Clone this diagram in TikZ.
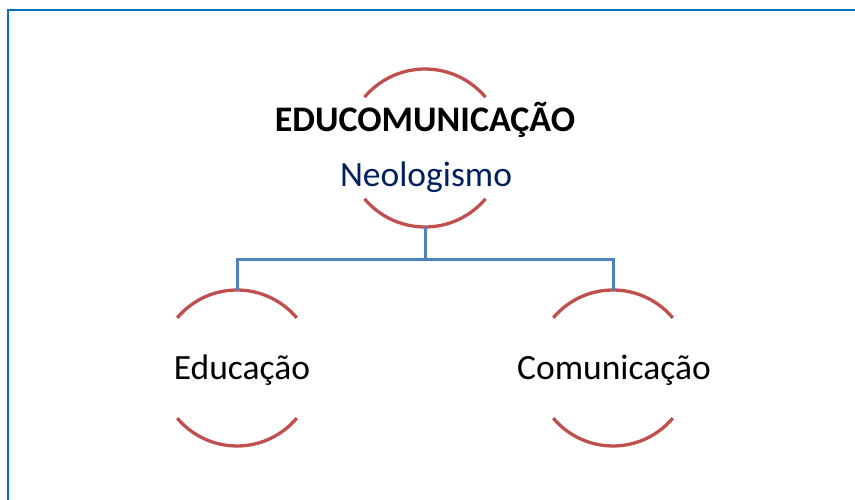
\documentclass[tikz,border=0pt]{standalone}
\usepackage{fontspec}
\setmainfont{Carlito}
\definecolor{framblue}{HTML}{0070C0}
\definecolor{arcred}{HTML}{C0504D}
\definecolor{linkblue}{HTML}{4F81BD}
\definecolor{navy}{HTML}{002060}
\begin{document}
\begin{tikzpicture}[x=1pt,y=-1pt,
  ring/.style={circle,minimum size=#1,inner sep=0pt,outer sep=0pt},
  arcline/.style={draw=arcred,line width=3.3pt},
  link/.style={draw=linkblue,line width=3pt},
  lbl/.style={anchor=base,inner sep=0pt,font=\fontsize{35.5}{40}\selectfont}]
\useasboundingbox (0,0) rectangle (855,500);
\draw[framblue,line width=2.5pt] (8,510) -- (8,10) -- (865,10);
% rings
\node[ring=158pt] (top) at (425,148) {};
\node[ring=156pt] (left) at (237,368) {};
\node[ring=156pt] (right) at (613,368) {};
\foreach \n/\r in {top/79,left/78,right/78}{
  \draw[arcline] (\n.40) arc[start angle=40,end angle=140,radius=\r pt];
  \draw[arcline] (\n.220) arc[start angle=220,end angle=320,radius=\r pt];
}
% connectors
\coordinate (j) at (425,259);
\draw[link] (top.south) -- (j) -| (left.north);
\draw[link] (j) -| (right.north);
% texts
\node[lbl,font=\bfseries\fontsize{36}{40}\selectfont] (t1) at (425,132) {EDUCOMUNICAÇÃO};
\node[lbl,text=navy] (t2) at (426,187) {Neologismo};
\node[lbl] (t3) at (242,379) {Educação};
\node[lbl] (t4) at (614,379) {Comunicação};
\end{tikzpicture}
\end{document}
